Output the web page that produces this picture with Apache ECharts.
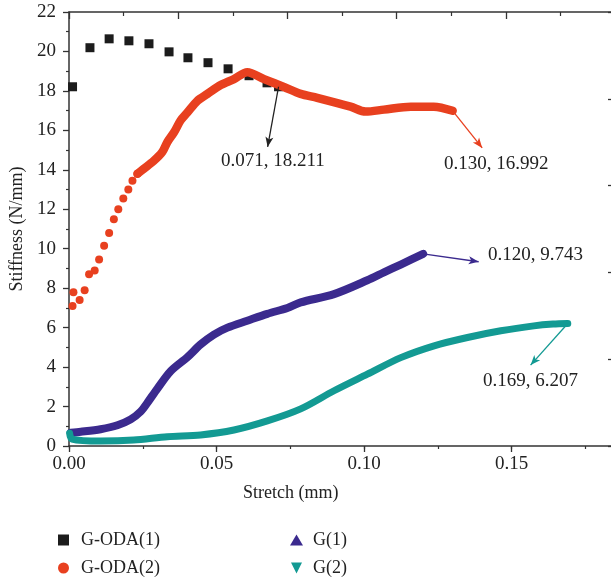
<!DOCTYPE html>
<html lang="en">
<head>
<meta charset="UTF-8">
<title>Stiffness vs stretch</title>
<script src="https://cdn.jsdelivr.net/npm/echarts@6/dist/echarts.min.js"></script>
<style>
  body { margin: 0; background: #fff; overflow: hidden; }
  /* a bit wider than the window so the right frame line falls just outside */
  #chart { width: 616px; height: 582px; }
</style>
</head>
<body>
<div id="chart"></div>
<script>
  // G-ODA(1): sparse black squares
  var odaOneX = [0.0012, 0.0071, 0.0136, 0.0203, 0.0271, 0.0339, 0.0403, 0.0471, 0.0539, 0.0610, 0.0671, 0.0710];
  var odaOneY = [18.21, 20.19, 20.64, 20.54, 20.39, 19.98, 19.68, 19.43, 19.12, 18.77, 18.41, 18.211];

  // G-ODA(2): separate circles at the start, then a dense band
  var odaTwoDotX = [0.0012, 0.0015, 0.0036, 0.0053, 0.0068, 0.0087, 0.0102, 0.0119, 0.0136, 0.0152, 0.0167, 0.0184, 0.0201, 0.0215, 0.0232];
  var odaTwoDotY = [7.1, 7.8, 7.4, 7.9, 8.7, 8.9, 9.45, 10.15, 10.8, 11.5, 12.0, 12.55, 13.0, 13.45, 13.8];
  var odaTwoX = [0.0232, 0.0253, 0.0287, 0.0316, 0.0333, 0.0356, 0.0378, 0.0401, 0.0435, 0.0469, 0.0514, 0.0559, 0.0604, 0.0661, 0.0728, 0.0785, 0.0841, 0.0954, 0.1005, 0.1067, 0.1158, 0.1236, 0.1300];
  var odaTwoY = [13.8, 14.05, 14.45, 14.9, 15.4, 15.9, 16.5, 16.9, 17.5, 17.85, 18.3, 18.6, 18.95, 18.6, 18.2, 17.85, 17.65, 17.2, 16.95, 17.05, 17.2, 17.2, 16.992];

  // G(1)
  var gOneX = [0.0006, 0.0040, 0.0107, 0.0164, 0.0209, 0.0243, 0.0266, 0.0299, 0.0345, 0.0401, 0.0446, 0.0491, 0.0537, 0.0604, 0.0672, 0.0740, 0.0785, 0.0898, 0.1011, 0.1067, 0.1124, 0.1200];
  var gOneY = [0.67, 0.72, 0.85, 1.05, 1.35, 1.75, 2.2, 2.9, 3.8, 4.5, 5.15, 5.65, 6.0, 6.35, 6.7, 7.0, 7.28, 7.7, 8.4, 8.8, 9.2, 9.743];

  // G(2)
  var gTwoX = [0.0002, 0.0010, 0.0107, 0.0219, 0.0333, 0.0446, 0.0559, 0.0672, 0.0785, 0.0898, 0.1011, 0.1124, 0.1237, 0.1350, 0.1463, 0.1575, 0.1640, 0.1690];
  var gTwoY = [0.65, 0.35, 0.25, 0.3, 0.47, 0.56, 0.81, 1.27, 1.88, 2.8, 3.64, 4.48, 5.08, 5.5, 5.84, 6.09, 6.18, 6.207];

  // annotated end points and where their arrows point to
  var noteFrom = [[0.071, 18.211], [0.1300, 16.992], [0.1200, 9.743], [0.1690, 6.207]];
  var noteTo = [[0.0673, 15.16], [0.1400, 15.11], [0.1388, 9.34], [0.1564, 4.10]];
  var noteText = ['0.071, 18.211', '0.130, 16.992', '0.120, 9.743', '0.169, 6.207'];

  var xTicks = [0, 0.05, 0.10, 0.15];

  var chart = echarts.init(document.getElementById('chart'));
  var serif = 'Liberation Serif';
  var ink = '#222';
  var axisColor = '#333';
  var colors = { oda1: '#1c1c1c', oda2: '#e8401f', g1: '#3b2a8e', g2: '#139a93' };

  function pairs(xs, ys) {
    return xs.map(function (x, i) { return [x, ys[i]]; });
  }
  function arrow(i, color) {
    return {
      silent: true,
      symbol: ['none', 'arrow'],
      symbolSize: [6, 10],
      label: { show: false },
      lineStyle: { color: color, width: 1.3, type: 'solid' },
      data: [[{ coord: noteFrom[i] }, { coord: noteTo[i] }]]
    };
  }
  function noteLabel(i, x, y) {
    return {
      type: 'text', left: x, top: y,
      style: { text: noteText[i], font: '19px "Liberation Serif"', fill: ink }
    };
  }

  var plainLine = { show: true, onZero: false, lineStyle: { color: axisColor, width: 1.5 } };

  var option = {
    animation: false,
    backgroundColor: '#fff',
    grid: { left: 69, top: 12, right: 1, bottom: 136 },
    xAxis: [
      {
        type: 'value', position: 'bottom', min: 0, max: 0.185, interval: 0.05,
        axisLine: plainLine,
        axisTick: { length: 6, lineStyle: { color: axisColor, width: 1.3 } },
        axisLabel: {
          fontFamily: serif, fontSize: 19, color: ink, margin: 9, showMaxLabel: false,
          formatter: function (v) { return xTicks.indexOf(v) >= 0 ? v.toFixed(2) : ''; }
        },
        splitLine: { show: false }
      },
      {
        // minor ticks every 0.025
        type: 'value', position: 'bottom', min: 0, max: 0.185, interval: 0.025,
        axisLine: { show: false, onZero: false },
        axisTick: { length: 3, lineStyle: { color: axisColor, width: 1.2 } },
        axisLabel: { show: false },
        splitLine: { show: false }
      },
      {
        type: 'value', position: 'top', min: 0, max: 5, interval: 1,
        axisLine: plainLine,
        axisTick: { inside: true, length: 7, lineStyle: { color: axisColor, width: 1.3 } },
        minorTick: { show: true, splitNumber: 2, length: 4, lineStyle: { color: axisColor, width: 1.2 } },
        axisLabel: { show: false },
        splitLine: { show: false }
      }
    ],
    yAxis: [
      {
        type: 'value', position: 'left', min: 0, max: 22, interval: 2,
        name: 'Stiffness (N/mm)', nameLocation: 'middle', nameGap: 43,
        nameTextStyle: { fontFamily: serif, fontSize: 18, color: ink },
        axisLine: plainLine,
        axisTick: { length: 6, lineStyle: { color: axisColor, width: 1.3 } },
        minorTick: { show: true, splitNumber: 2, length: 3, lineStyle: { color: axisColor, width: 1.2 } },
        axisLabel: { fontFamily: serif, fontSize: 19, color: ink, margin: 13 },
        splitLine: { show: false }
      },
      {
        type: 'value', position: 'right', min: 0, max: 5, interval: 1,
        axisLine: plainLine,
        axisTick: { inside: true, length: 7, lineStyle: { color: axisColor, width: 1.3 } },
        minorTick: { show: true, splitNumber: 2, length: 4, lineStyle: { color: axisColor, width: 1.2 } },
        axisLabel: { show: false },
        splitLine: { show: false }
      }
    ],
    legend: [
      {
        left: 53, top: 526, orient: 'vertical', itemGap: 10,
        itemWidth: 11, itemHeight: 11,
        textStyle: { fontFamily: serif, fontSize: 18, color: ink, padding: [0, 0, 0, 7] },
        data: [
          { name: 'G-ODA(1)', icon: 'rect', itemStyle: { color: colors.oda1, opacity: 1 } },
          { name: 'G-ODA(2)', icon: 'circle', itemStyle: { color: colors.oda2, opacity: 1 } }
        ]
      },
      {
        left: 285, top: 526, orient: 'vertical', itemGap: 10,
        itemWidth: 13, itemHeight: 11,
        textStyle: { fontFamily: serif, fontSize: 18, color: ink, padding: [0, 0, 0, 5] },
        data: [
          { name: 'G(1)', icon: 'triangle', itemStyle: { color: colors.g1 } },
          { name: 'G(2)', icon: 'path://M0,0 L10,0 L5,10 Z', itemStyle: { color: colors.g2 } }
        ]
      }
    ],
    graphic: [
      {
        type: 'text', left: 243, top: 484,
        style: { text: 'Stretch (mm)', font: '18px "Liberation Serif"', fill: ink }
      },
      noteLabel(0, 221, 152),
      noteLabel(1, 444, 155),
      noteLabel(2, 488, 246),
      noteLabel(3, 483, 372)
    ],
    series: [
      {
        name: 'G-ODA(1)', type: 'scatter', symbol: 'rect', symbolSize: 9,
        itemStyle: { color: colors.oda1, opacity: 1 },
        data: pairs(odaOneX, odaOneY),
        z: 2
      },
      {
        name: 'G-ODA(2)', type: 'scatter', symbol: 'circle', symbolSize: 8,
        itemStyle: { color: colors.oda2, opacity: 1 },
        data: pairs(odaTwoDotX, odaTwoDotY),
        z: 3
      },
      {
        name: 'G-ODA(2)', type: 'line', showSymbol: false, smooth: 0.3,
        itemStyle: { color: colors.oda2 },
        lineStyle: { color: colors.oda2, width: 8.5, cap: 'round', join: 'round' },
        data: pairs(odaTwoX, odaTwoY),
        markLine: arrow(1, colors.oda2),
        z: 3
      },
      {
        name: 'G(1)', type: 'line', showSymbol: false, smooth: 0.3,
        itemStyle: { color: colors.g1 },
        lineStyle: { color: colors.g1, width: 8, cap: 'round', join: 'round' },
        data: pairs(gOneX, gOneY),
        markLine: arrow(2, colors.g1),
        z: 3
      },
      {
        name: 'G(2)', type: 'line', showSymbol: false, smooth: 0.3,
        itemStyle: { color: colors.g2 },
        lineStyle: { color: colors.g2, width: 7, cap: 'round', join: 'round' },
        data: pairs(gTwoX, gTwoY),
        markLine: arrow(3, colors.g2),
        z: 3
      },
      {
        // black pointer drawn above the red band
        name: 'G-ODA(1)', type: 'line', showSymbol: false, silent: true,
        lineStyle: { width: 0 },
        data: [],
        markLine: arrow(0, '#222'),
        z: 5
      }
    ]
  };

  chart.setOption(option);
</script>
</body>
</html>
